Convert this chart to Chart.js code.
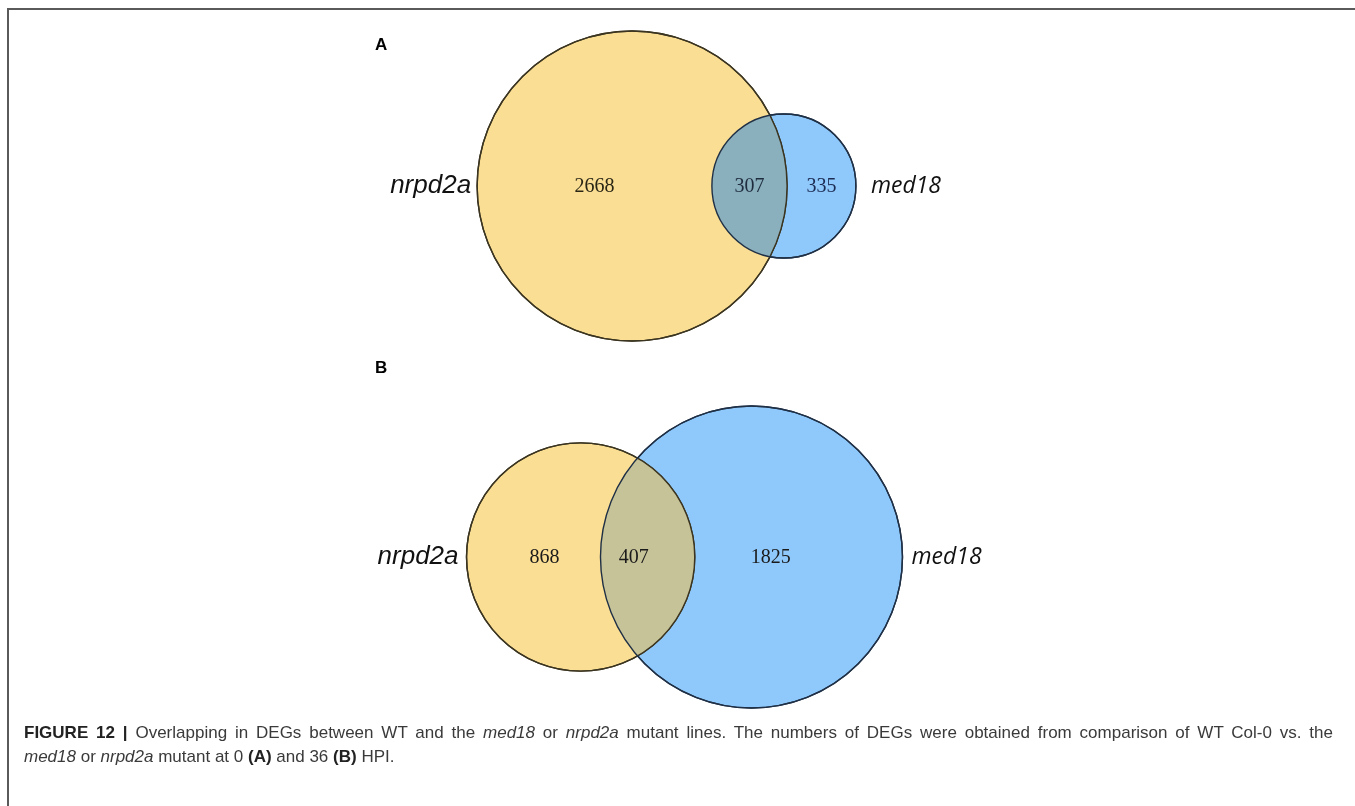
<!DOCTYPE html>
<html>
<head>
<meta charset="utf-8">
<title>Overlapping DEGs – Venn diagrams</title>
<script src="https://cdn.jsdelivr.net/npm/chart.js@4.4.1/dist/chart.umd.min.js"></script>
<style>
  html, body { margin: 0; padding: 0; background: #fff; width: 1355px; height: 806px; overflow: hidden; }
  #wrap { position: relative; width: 1355px; height: 806px; }
  #frame { position: absolute; left: 7px; top: 8px; width: 1360px; height: 820px;
           border-top: 2px solid #5a5a5a; border-left: 2px solid #5a5a5a; box-sizing: border-box; }
  #venn { position: absolute; left: 0; top: 0; }
  .cap { position: absolute; left: 24px; width: 1309px; font-family: "Liberation Sans", Arial, sans-serif;
         font-size: 17px; line-height: 24px; color: #3a3a3a; }
  #cap1 { top: 721px; text-align: justify; text-align-last: justify; }
  #cap2 { top: 745px; white-space: nowrap; }
  .cap b { color: #222; }
</style>
</head>
<body>
<div id="wrap">
  <div id="frame"></div>
  <canvas id="venn" width="1355" height="806"></canvas>
  <div class="cap" id="cap1"><b>FIGURE 12 |</b> Overlapping in DEGs between WT and the <i>med18</i> or <i>nrpd2a</i> mutant lines. The numbers of DEGs were obtained from comparison of WT Col-0 vs. the</div>
  <div class="cap" id="cap2"><i>med18</i> or <i>nrpd2a</i> mutant at 0 <b>(A)</b> and 36 <b>(B)</b> HPI.</div>
</div>
<script>
// ---- data: DEG counts per comparison (A = 0 HPI, B = 36 HPI) ----
const panels     = ['A', 'B'];
const setNames   = ['nrpd2a', 'med18'];
const onlyFirst  = [2668, 868];   // DEGs only in nrpd2a
const shared     = [307, 407];    // DEGs in both
const onlySecond = [335, 1825];   // DEGs only in med18

// ---- layout (the scales below map 1 unit to 1 pixel) ----
const layout = [
  { cy: 186, spanCenter: 666.5, maxR: 155, letterX: 375, letterY: 45,
    gapL: 6, gapR: 15, numShift: [0, 0, 0], lens: '#8aafbd',
    numColors: ['#2a2616', '#1e2c3e', '#1c2b52'] },
  { cy: 557, spanCenter: 684.5, maxR: 151, letterX: 375, letterY: 368,
    gapL: 8, gapR: 9, numShift: [11, -14, -28], lens: '#c7c398',
    numColors: ['#1a1a1a', '#1a1a1a', '#1a1a1a'] }
];
const fills   = ['#fade93', '#8fc9fb'];
const strokes = ['#3a3420', '#1f3046'];

// area of the lens shared by two circles with radii a, b at distance d
function lensArea(a, b, d) {
  if (d >= a + b) return 0;
  if (d <= Math.abs(a - b)) return Math.PI * Math.min(a, b) ** 2;
  const t1 = a * a * Math.acos((d * d + a * a - b * b) / (2 * d * a));
  const t2 = b * b * Math.acos((d * d + b * b - a * a) / (2 * d * b));
  const t3 = 0.5 * Math.sqrt((-d + a + b) * (d + a - b) * (d - a + b) * (d + a + b));
  return t1 + t2 - t3;
}
// centre distance giving the wanted overlap (bisection; area shrinks as d grows)
function solveDistance(a, b, target) {
  let lo = Math.abs(a - b), hi = a + b;
  for (let i = 0; i < 80; i++) {
    const mid = (lo + hi) / 2;
    if (lensArea(a, b, mid) > target) lo = mid; else hi = mid;
  }
  return (lo + hi) / 2;
}

// area-proportional circles for each panel (r is in axis units = pixels here)
const circlesFirst = [], circlesSecond = [];
panels.forEach((p, i) => {
  const n1 = onlyFirst[i] + shared[i];
  const n2 = onlySecond[i] + shared[i];
  const k = layout[i].maxR / Math.sqrt(Math.max(n1, n2));
  const r1 = k * Math.sqrt(n1), r2 = k * Math.sqrt(n2);
  const d = solveDistance(r1, r2, Math.PI * k * k * shared[i]);
  const span = r1 + d + r2;
  const x1 = layout[i].spanCenter - span / 2 + r1;
  circlesFirst.push({ x: x1, y: layout[i].cy, r: r1 });
  circlesSecond.push({ x: x1 + d, y: layout[i].cy, r: r2 });
});

function circlePath(ctx, el) {
  ctx.beginPath();
  ctx.arc(el.x, el.y, el.options.radius, 0, Math.PI * 2);
}

const overlapAndLabels = {
  id: 'overlapAndLabels',
  afterDatasetsDraw(chart) {
    const ctx = chart.ctx;
    const m0 = chart.getDatasetMeta(0), m1 = chart.getDatasetMeta(1);
    panels.forEach((p, i) => {
      const e0 = m0.data[i], e1 = m1.data[i];
      const L = layout[i];
      const R0 = e0.options.radius, R1 = e1.options.radius;

      // shared region
      ctx.save();
      circlePath(ctx, e0);
      ctx.clip();
      circlePath(ctx, e1);
      ctx.fillStyle = L.lens;
      ctx.fill();
      ctx.restore();

      // outlines over everything
      ctx.save();
      ctx.lineWidth = 1.4;
      circlePath(ctx, e0); ctx.strokeStyle = strokes[0]; ctx.stroke();
      circlePath(ctx, e1); ctx.strokeStyle = strokes[1]; ctx.stroke();
      ctx.restore();

      // region counts
      const leftEdge = e0.x - R0, rightEdge = e1.x + R1;
      const lensL = e1.x - R1, lensR = e0.x + R0;
      const xs = [(leftEdge + lensL) / 2, (lensL + lensR) / 2, (lensR + rightEdge) / 2];
      const vals = [onlyFirst[i], shared[i], onlySecond[i]];
      ctx.save();
      ctx.font = '20px "Liberation Serif", "Times New Roman", serif';
      ctx.textAlign = 'center';
      ctx.textBaseline = 'middle';
      vals.forEach((v, j) => {
        ctx.fillStyle = L.numColors[j];
        ctx.fillText(String(v), xs[j] + L.numShift[j], e0.y + 1);
      });

      // set names
      ctx.fillStyle = '#111';
      ctx.font = 'italic 26px "Liberation Sans", Arial, sans-serif';
      ctx.textAlign = 'right';
      ctx.fillText(setNames[0], leftEdge - L.gapL, e0.y);
      ctx.font = 'italic 23px "Open Sans", "Liberation Sans", sans-serif';
      ctx.textAlign = 'left';
      ctx.fillText(setNames[1], rightEdge + L.gapR, e0.y);

      // panel letter
      ctx.font = 'bold 17px "Liberation Sans", Arial, sans-serif';
      ctx.fillStyle = '#000';
      ctx.textAlign = 'left';
      ctx.fillText(p, L.letterX, L.letterY);
      ctx.restore();
    });
  }
};

new Chart(document.getElementById('venn'), {
  type: 'bubble',
  data: {
    datasets: [
      { label: setNames[0], data: circlesFirst, backgroundColor: fills[0], borderColor: strokes[0], borderWidth: 1.4, clip: false },
      { label: setNames[1], data: circlesSecond, backgroundColor: fills[1], borderColor: strokes[1], borderWidth: 1.4, clip: false }
    ]
  },
  options: {
    responsive: false,
    animation: false,
    devicePixelRatio: 1,
    events: [],
    layout: { padding: 0, autoPadding: false },
    plugins: { legend: { display: false }, tooltip: { enabled: false } },
    scales: {
      x: { type: 'linear', min: 0, max: 1355, display: false },
      y: { type: 'linear', min: 0, max: 806, reverse: true, display: false }
    }
  },
  plugins: [overlapAndLabels]
});
</script>
</body>
</html>
